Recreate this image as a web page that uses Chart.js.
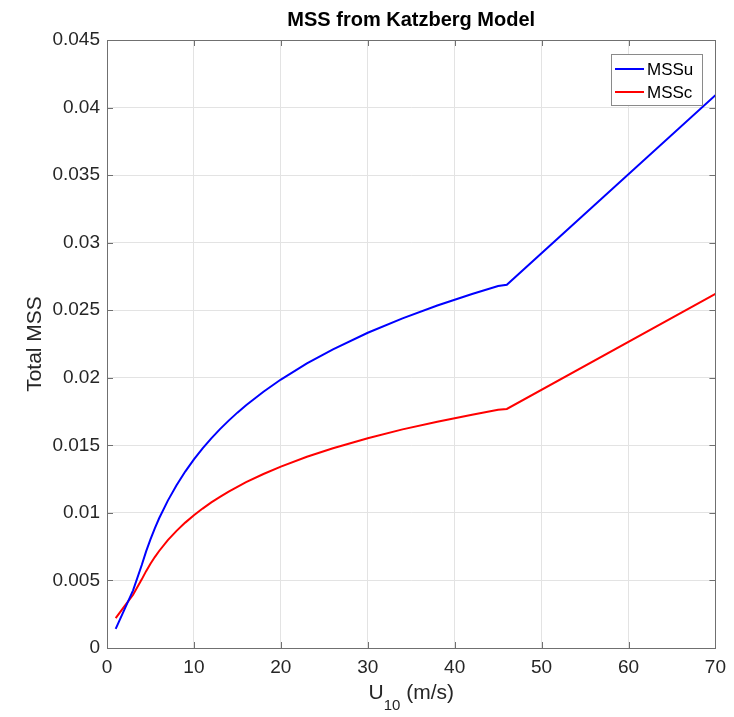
<!DOCTYPE html>
<html>
<head>
<meta charset="utf-8">
<title>MSS from Katzberg Model</title>
<script src="https://cdn.jsdelivr.net/npm/chart.js@4.4.1/dist/chart.umd.min.js"></script>
<style>
  html, body { margin: 0; padding: 0; background: #ffffff; }
  #wrap { width: 734px; height: 717px; }
</style>
</head>
<body>
<div id="wrap"><canvas id="myChart" width="734" height="717"></canvas></div>
<script>
// Viento a 10 m (m/s)
const windSpeed = [1, 2, 3, 4, 4.5, 5, 5.5, 6, 7, 8, 9, 10, 11, 12, 13, 14, 15, 16, 18, 20,
                   23, 26, 30, 34, 38, 42, 45, 46, 70];

// MSS total sin corregir (azul)
const mssU = [0.00142, 0.00284, 0.00427, 0.00614, 0.00715, 0.00804, 0.00886, 0.00960, 0.01091,
              0.01205, 0.01306, 0.01396, 0.01477, 0.01551, 0.01620, 0.01683, 0.01742, 0.01797, 0.01897,
              0.01987, 0.02106, 0.02211, 0.02333, 0.02440, 0.02535, 0.02620, 0.02679, 0.02688, 0.04091];

// MSS total corregido (rojo)
const mssC = [0.00221, 0.00308, 0.00394, 0.00508, 0.00569, 0.00624, 0.00673, 0.00718, 0.00798,
              0.00867, 0.00928, 0.00983, 0.01032, 0.01078, 0.01119, 0.01158, 0.01193, 0.01227, 0.01288,
              0.01342, 0.01415, 0.01478, 0.01553, 0.01618, 0.01675, 0.01727, 0.01763, 0.01769, 0.02621];

const xTicks = [0, 10, 20, 30, 40, 50, 60, 70];
const yTicks = [0, 0.005, 0.01, 0.015, 0.02, 0.025, 0.03, 0.035, 0.04, 0.045];

const seriesNames = ['MSSu', 'MSSc'];
const seriesColors = ['#0000ff', '#ff0000'];

const FONT = '"Liberation Sans", Arial, Helvetica, sans-serif';
const TEXT_COLOR = '#262626';
const AXIS_COLOR = '#707070';

function toPoints(xs, ys) {
    return xs.map((x, i) => ({ x: x, y: ys[i] }));
}

// Marco, ticks hacia adentro, titulo, etiqueta X con subindice y leyenda
const matlabStyle = {
    id: 'matlabStyle',
    afterDatasetsDraw(chart) {
        const ctx = chart.ctx;
        const a = chart.chartArea;
        const sx = chart.scales.x;
        const sy = chart.scales.y;
        ctx.save();
        ctx.strokeStyle = AXIS_COLOR;
        ctx.lineWidth = 1;
        ctx.beginPath();
        xTicks.forEach(v => {
            const px = Math.round(sx.getPixelForValue(v)) + 0.5;
            ctx.moveTo(px, a.bottom); ctx.lineTo(px, a.bottom - 6);
            ctx.moveTo(px, a.top); ctx.lineTo(px, a.top + 6);
        });
        yTicks.forEach(v => {
            const py = Math.round(sy.getPixelForValue(v)) + 0.5;
            ctx.moveTo(a.left, py); ctx.lineTo(a.left + 6, py);
            ctx.moveTo(a.right, py); ctx.lineTo(a.right - 6, py);
        });
        ctx.stroke();
        ctx.strokeRect(Math.round(a.left) + 0.5, Math.round(a.top) + 0.5,
                       Math.round(a.right - a.left), Math.round(a.bottom - a.top));

        // Titulo
        const cx = (a.left + a.right) / 2;
        ctx.fillStyle = '#000000';
        ctx.font = 'bold 20px ' + FONT;
        ctx.textAlign = 'center';
        ctx.textBaseline = 'alphabetic';
        ctx.fillText('MSS from Katzberg Model', cx, 26);

        // Etiqueta X: U10 (m/s) con subindice
        ctx.fillStyle = TEXT_COLOR;
        const big = '21px ' + FONT;
        const small = '15px ' + FONT;
        ctx.font = big;
        const wU = ctx.measureText('U').width;
        const wRest = ctx.measureText(' (m/s)').width;
        ctx.font = small;
        const wSub = ctx.measureText('10').width;
        let x0 = cx - (wU + wSub + wRest) / 2;
        const base = 699;
        ctx.textAlign = 'left';
        ctx.font = big;
        ctx.fillText('U', x0, base);
        ctx.font = small;
        ctx.fillText('10', x0 + wU, base + 11);
        ctx.font = big;
        ctx.fillText(' (m/s)', x0 + wU + wSub, base);

        // Leyenda
        const lx = 611, ly = 54, lw = 91, lh = 51;
        ctx.fillStyle = '#ffffff';
        ctx.fillRect(lx, ly, lw, lh);
        ctx.strokeStyle = '#8a8a8a';
        ctx.strokeRect(lx + 0.5, ly + 0.5, lw, lh);
        ctx.font = '17px ' + FONT;
        ctx.textBaseline = 'middle';
        chart.data.datasets.forEach((ds, i) => {
            const ry = ly + 15 + i * 23;
            ctx.strokeStyle = ds.borderColor;
            ctx.lineWidth = 2;
            ctx.beginPath();
            ctx.moveTo(lx + 4, ry);
            ctx.lineTo(lx + 33, ry);
            ctx.stroke();
            ctx.fillStyle = '#000000';
            ctx.fillText(ds.label, lx + 36, ry + 1);
        });
        ctx.restore();
    }
};

const ctx = document.getElementById('myChart').getContext('2d');
const myChart = new Chart(ctx, {
    type: 'line',
    data: {
        datasets: [
            {
                label: seriesNames[0],
                data: toPoints(windSpeed, mssU),
                borderColor: seriesColors[0],
                borderWidth: 2,
                pointRadius: 0,
                fill: false,
                tension: 0
            },
            {
                label: seriesNames[1],
                data: toPoints(windSpeed, mssC),
                borderColor: seriesColors[1],
                borderWidth: 2,
                pointRadius: 0,
                fill: false,
                tension: 0
            }
        ]
    },
    options: {
        responsive: false,
        animation: false,
        layout: { padding: { top: 40, right: 18, left: 0, bottom: 0 } },
        plugins: {
            legend: { display: false },
            tooltip: { enabled: false }
        },
        scales: {
            x: {
                type: 'linear',
                min: 0,
                max: 70,
                afterBuildTicks: s => { s.ticks = xTicks.map(v => ({ value: v })); },
                ticks: { font: { family: FONT, size: 19 }, color: TEXT_COLOR, padding: 8, maxRotation: 0 },
                grid: { color: '#e3e3e3', drawTicks: false },
                border: { display: false },
                afterFit: s => { s.height = 69; }
            },
            y: {
                min: 0,
                max: 0.045,
                afterBuildTicks: s => { s.ticks = yTicks.map(v => ({ value: v })); },
                ticks: {
                    font: { family: FONT, size: 19 },
                    color: TEXT_COLOR,
                    padding: 7,
                    callback: v => String(Number(v.toFixed(3)))
                },
                grid: { color: '#e3e3e3', drawTicks: false },
                border: { display: false },
                title: {
                    display: true,
                    text: 'Total MSS',
                    font: { family: FONT, size: 21 },
                    color: TEXT_COLOR,
                    padding: { top: 23, bottom: 0 }
                },
                afterFit: s => { s.width = 107; }
            }
        }
    },
    plugins: [matlabStyle]
});
</script>
</body>
</html>
